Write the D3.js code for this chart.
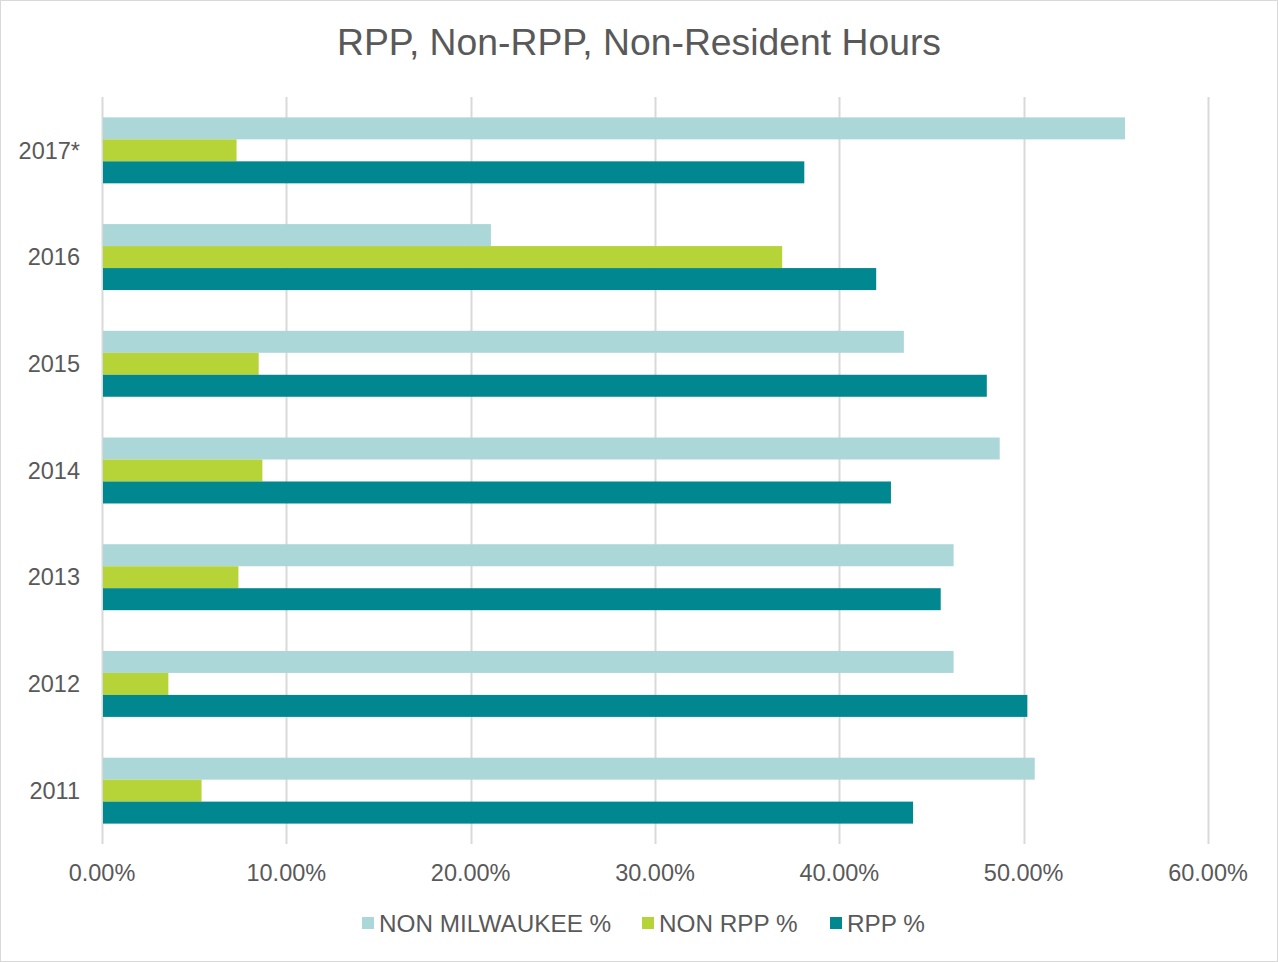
<!DOCTYPE html>
<html>
<head>
<meta charset="utf-8">
<script src="https://cdn.jsdelivr.net/npm/d3@7"></script>
<style>
  html, body { margin: 0; padding: 0; background: #fff; }
  svg { display: block; font-family: "Liberation Sans", Arial, sans-serif; }
</style>
</head>
<body>
<svg id="chart"></svg>
<script>
const years = ['2017*', '2016', '2015', '2014', '2013', '2012', '2011'];
const seriesNames = ['NON MILWAUKEE %', 'NON RPP %', 'RPP %'];
const nonMilwaukee = [0.555, 0.211, 0.435, 0.487, 0.462, 0.462, 0.506];
const nonRpp = [0.073, 0.369, 0.085, 0.087, 0.074, 0.036, 0.054];
const rpp = [0.381, 0.420, 0.480, 0.428, 0.455, 0.502, 0.440];
const ticks = [0, 0.1, 0.2, 0.3, 0.4, 0.5, 0.6];
const colors = ['#abd7d8', '#b6d437', '#00878f'];

const width = 1278, height = 962;
const margin = { top: 97, right: 70, bottom: 118, left: 102 };
const textColor = '#595959';

const svg = d3.select('#chart').attr('width', width).attr('height', height);

svg.append('rect')
  .attr('x', 0.5).attr('y', 0.5)
  .attr('width', width - 1).attr('height', height - 1)
  .attr('fill', '#fff').attr('stroke', '#d9d9d9');

const x = d3.scaleLinear()
  .domain([0, 0.6])
  .range([margin.left, width - margin.right]);

const y = d3.scaleBand()
  .domain(years)
  .range([margin.top, height - margin.bottom])
  .paddingInner(0.382)
  .paddingOuter(0.191);

const sub = d3.scaleBand()
  .domain(seriesNames)
  .range([0, y.bandwidth()]);

// gridlines
svg.append('g')
  .selectAll('line')
  .data(ticks)
  .join('line')
  .attr('x1', d => Math.round(x(d)) + 0.5)
  .attr('x2', d => Math.round(x(d)) + 0.5)
  .attr('y1', margin.top)
  .attr('y2', height - margin.bottom)
  .attr('stroke', '#d9d9d9')
  .attr('stroke-width', 2);

const rows = years.map((yr, i) => ({
  year: yr,
  values: [nonMilwaukee[i], nonRpp[i], rpp[i]]
}));

const group = svg.append('g')
  .selectAll('g')
  .data(rows)
  .join('g')
  .attr('transform', d => `translate(0,${y(d.year)})`);

group.selectAll('rect')
  .data(d => d.values.map((v, k) => ({ name: seriesNames[k], value: v, k })))
  .join('rect')
  .attr('x', x(0) + 1)
  .attr('y', d => sub(d.name))
  .attr('width', d => x(d.value) - x(0) - 1)
  .attr('height', sub.bandwidth())
  .attr('fill', d => colors[d.k]);

// category labels
svg.append('g')
  .selectAll('text')
  .data(years)
  .join('text')
  .attr('x', 80)
  .attr('y', d => y(d) + y.bandwidth() / 2)
  .attr('dy', '0.35em')
  .attr('text-anchor', 'end')
  .attr('fill', textColor)
  .style('font-size', '23.5px')
  .text(d => d);

// x tick labels
svg.append('g')
  .selectAll('text')
  .data(ticks)
  .join('text')
  .attr('x', d => x(d))
  .attr('y', 873)
  .attr('dy', '0.35em')
  .attr('text-anchor', 'middle')
  .attr('fill', textColor)
  .style('font-size', '23.5px')
  .text(d => d3.format('.2%')(d));

// title
svg.append('text')
  .attr('x', width / 2)
  .attr('y', 42)
  .attr('dy', '0.35em')
  .attr('text-anchor', 'middle')
  .attr('fill', textColor)
  .style('font-size', '37.3px')
  .text('RPP, Non-RPP, Non-Resident Hours');

// legend
const legendX = [362, 642, 830];
const legend = svg.append('g')
  .selectAll('g')
  .data(seriesNames)
  .join('g')
  .attr('transform', (d, i) => `translate(${legendX[i]},923)`);

legend.append('rect')
  .attr('x', 0).attr('y', -6)
  .attr('width', 12).attr('height', 12)
  .attr('fill', (d, i) => colors[i]);

legend.append('text')
  .attr('x', 17)
  .attr('dy', '0.35em')
  .attr('fill', textColor)
  .style('font-size', '24.3px')
  .text(d => d);
</script>
</body>
</html>
